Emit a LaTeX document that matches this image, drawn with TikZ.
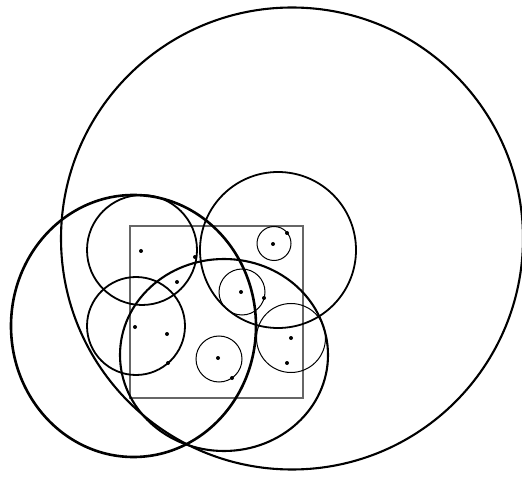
\documentclass[tikz,border=0pt]{standalone}
\begin{document}
\begin{tikzpicture}[x=1pt,y=-1pt,
  thickring/.style={draw=black,line width=2.6pt},
  bigring/.style={draw=black,line width=2.1pt},
  midring/.style={draw=black,line width=1.8pt},
  thinring/.style={draw=black,line width=1pt},
  frame/.style={draw=black!60,line width=1.1pt},
  pt/.style={circle,fill=black,inner sep=0pt,minimum size=4pt}]
\useasboundingbox (0,0) rectangle (522,478);
% frame
\draw[frame] (130,226) rectangle (303,398);
% large circles / ellipses
\draw[bigring] (292,238.5) circle (231);
\draw[thickring] (133.5,326) ellipse [x radius=122.5,y radius=131];
\draw[bigring] (224,355) ellipse [x radius=104,y radius=96];
\draw[midring] (142,250) circle (55);
\draw[midring] (136,326) circle (49);
\draw[midring] (278,250) circle (78);
% small circles
\draw[thinring] (274,243.5) circle (17);
\draw[thinring] (242,292) circle (23);
\draw[thinring] (219,359) circle (23);
\draw[thinring] (291,338) circle (34.5);
% points
\node[pt] (p1) at (141,251) {};
\node[pt] (p2) at (177,282) {};
\node[pt] (p3) at (195,257) {};
\node[pt] (p4) at (241,292) {};
\node[pt] (p5) at (264,298) {};
\node[pt] (p6) at (273,244) {};
\node[pt] (p7) at (287,233) {};
\node[pt] (p8) at (135,327) {};
\node[pt] (p9) at (167,334) {};
\node[pt] (p10) at (168,363) {};
\node[pt] (p11) at (218,358) {};
\node[pt] (p12) at (232,378) {};
\node[pt] (p13) at (291,338) {};
\node[pt] (p14) at (287,363) {};
\end{tikzpicture}
\end{document}
